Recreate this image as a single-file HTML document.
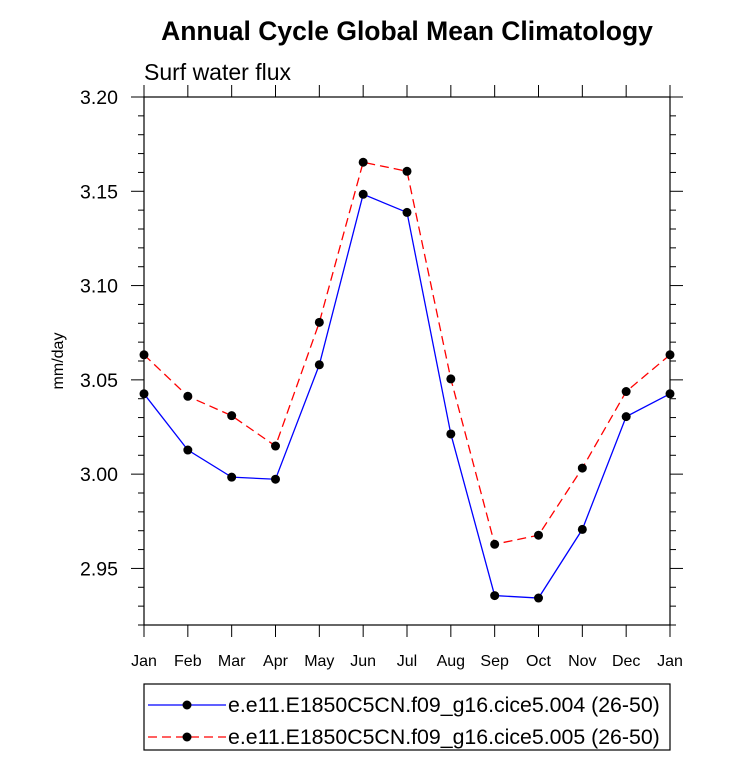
<!DOCTYPE html>
<html><head><meta charset="utf-8"><style>
body{margin:0;background:#fff}
text{font-family:"Liberation Sans",sans-serif;fill:#000}
</style></head><body>
<svg id="c" width="733" height="761"></svg>
<script>
const months=["Jan","Feb","Mar","Apr","May","Jun","Jul","Aug","Sep","Oct","Nov","Dec","Jan"];
const series004=[3.0426,3.0128,2.9984,2.9973,3.058,3.1484,3.1388,3.0213,2.9356,2.9343,2.9707,3.0305,3.0426];
const series005=[3.0633,3.0413,3.031,3.0149,3.0805,3.1654,3.1606,3.0505,2.9628,2.9676,3.0032,3.0438,3.0633];
const yTicks=["2.95","3.00","3.05","3.10","3.15","3.20"];
const seriesNames=["e.e11.E1850C5CN.f09_g16.cice5.004 (26-50)","e.e11.E1850C5CN.f09_g16.cice5.005 (26-50)"];
const L=144,R=670,T=97,B=625,yMin=2.92,yMax=3.20;
const sx=i=>L+i*(R-L)/(months.length-1);
const sy=v=>B-(v-yMin)/(yMax-yMin)*(B-T);
const svg=document.getElementById('c');
const NS="http://www.w3.org/2000/svg";
function mk(t,a,p){const e=document.createElementNS(NS,t);for(const k in a)e.setAttribute(k,a[k]);(p||svg).appendChild(e);return e;}
let e;
e=mk('text',{x:407,y:40,'text-anchor':'middle','font-size':26.5,'font-weight':'bold'});e.textContent="Annual Cycle Global Mean Climatology";


e=mk('text',{x:144,y:80,'font-size':23});e.textContent="Surf water flux";


e=mk('text',{x:0,y:0,'font-size':16,'text-anchor':'middle',transform:'translate(63,361) rotate(-90)'});e.textContent="mm/day";


e=mk('rect',{x:L,y:T,width:R-L,height:B-T,fill:'none',stroke:'#000','stroke-width':1.2});


for(let v=2.92;v<=3.2001;v+=0.01){const y=sy(v);const major=Math.abs(Math.round(v*100)%5)===0;const len=major?13:6;
 mk('line',{x1:L-len,x2:L,y1:y,y2:y,stroke:'#000'});mk('line',{x1:R,x2:R+len,y1:y,y2:y,stroke:'#000'});}
yTicks.forEach(t=>{const y=sy(+t);e=mk('text',{x:L-26,y:y+7,'text-anchor':'end','font-size':19.5});e.textContent=t;

});
months.forEach((m,i)=>{const x=sx(i);mk('line',{x1:x,x2:x,y1:B,y2:B+12,stroke:'#000'});mk('line',{x1:x,x2:x,y1:T-12,y2:T,stroke:'#000'});
 e=mk('text',{x:x,y:666,'text-anchor':'middle','font-size':16});e.textContent=m;
 
 });
function draw(vals,color,dash,name){
 const g=mk('g',{});
 
 
 e=mk('polyline',{points:vals.map((v,i)=>sx(i)+','+sy(v)).join(' '),fill:'none',stroke:color,'stroke-width':1.3,'stroke-dasharray':dash},g);
 vals.forEach((v,i)=>{const c=mk('circle',{cx:sx(i),cy:sy(v),r:4.5,fill:'#000'},g);
 
 });
}
draw(series004,'#0000ff','none','series-004');
draw(series005,'#ff0000','9,5','series-005');
e=mk('rect',{x:144,y:684,width:526,height:66,fill:'none',stroke:'#000','stroke-width':1.2});


[['#0000ff','none',705],['#ff0000','9,5',737]].forEach((s,i)=>{
 mk('line',{x1:148,x2:226,y1:s[2],y2:s[2],stroke:s[0],'stroke-width':1.3,'stroke-dasharray':s[1]});
 mk('circle',{cx:187,cy:s[2],r:4.5,fill:'#000'});
 e=mk('text',{x:228,y:s[2]+7,'font-size':21.3});e.textContent=seriesNames[i];
 
 });
</script>
</body></html>
